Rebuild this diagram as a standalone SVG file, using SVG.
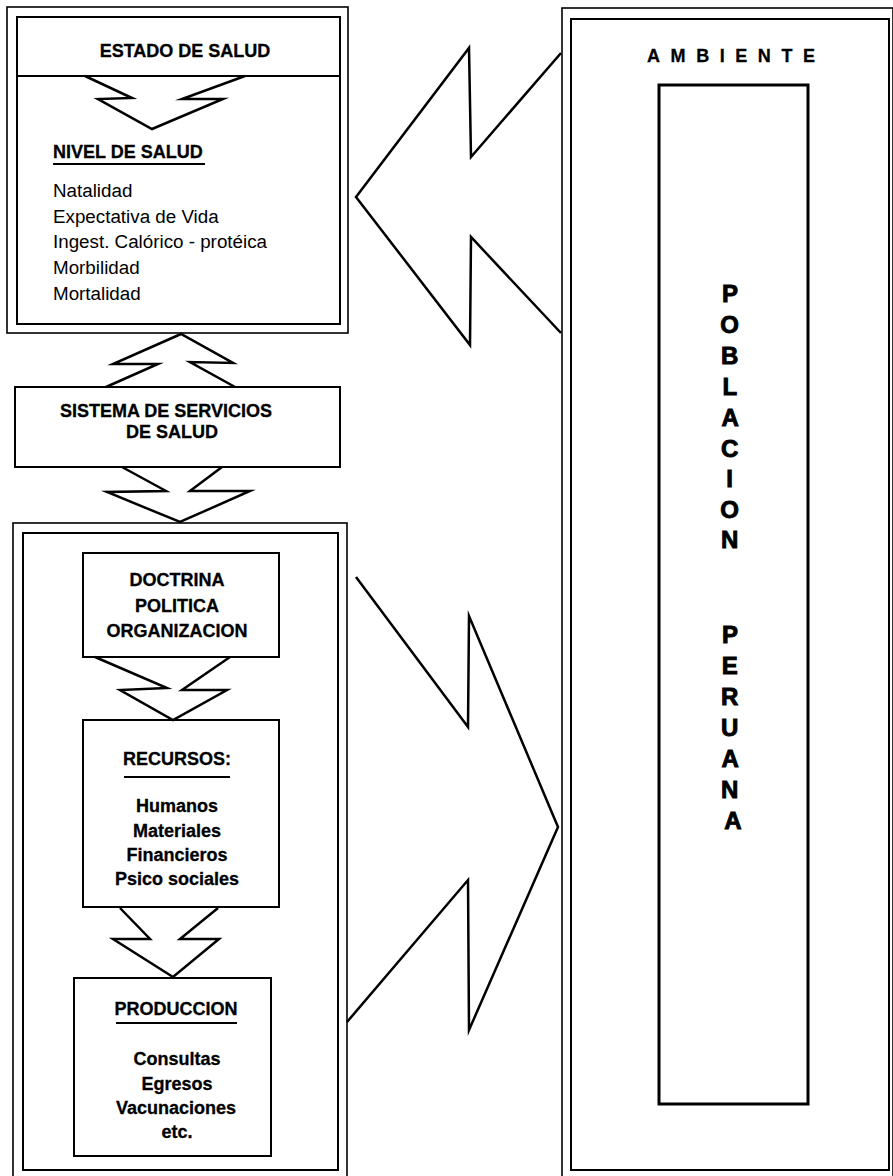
<svg xmlns="http://www.w3.org/2000/svg" width="893" height="1176" viewBox="0 0 893 1176">
  <style>
    .frame { fill: none; stroke: #000; stroke-width: 1.6; }
    .box { fill: none; stroke: #000; stroke-width: 2; }
    .thick { fill: none; stroke: #000; stroke-width: 3; }
    .arrow { fill: none; stroke: #000; stroke-width: 2.5; stroke-linejoin: miter; stroke-miterlimit: 20; }
    .ul { stroke: #000; stroke-width: 2; }
    .b { font-family: "Liberation Sans", Arial, sans-serif; font-weight: bold; font-size: 18px; fill: #000; stroke: #000; stroke-width: 0.3; }
    .r { font-family: "Liberation Sans", Arial, sans-serif; font-size: 18.8px; fill: #000; }
    .c { text-anchor: middle; }
    .big { font-family: "Liberation Sans", Arial, sans-serif; font-weight: bold; font-size: 24px; fill: #000; stroke: #000; stroke-width: 0.9; text-anchor: middle; }
  </style>
  <rect width="893" height="1176" fill="#fff"/>

  <!-- Estado de salud / nivel de salud -->
  <g id="estado-salud">
    <rect class="frame" x="7" y="7" width="341" height="326"/>
    <rect class="box" x="17" y="17" width="323" height="307"/>
    <line class="box" x1="17" y1="76" x2="340" y2="76"/>
    <text class="b c" x="185" y="57">ESTADO DE SALUD</text>
    <text class="b" x="53" y="158">NIVEL DE SALUD</text>
    <line class="ul" x1="53" y1="164" x2="205" y2="164"/>
    <text class="r" x="53" y="197">Natalidad</text>
    <text class="r" x="53" y="223">Expectativa de Vida</text>
    <text class="r" x="53" y="248">Ingest. Calórico - protéica</text>
    <text class="r" x="53" y="274">Morbilidad</text>
    <text class="r" x="53" y="300">Mortalidad</text>
  </g>

  <!-- Sistema de servicios de salud -->
  <g id="sistema-servicios">
    <rect class="box" x="15" y="387" width="325" height="80"/>
    <text class="b c" x="166" y="417" font-size="18.8">SISTEMA DE SERVICIOS</text>
    <text class="b c" x="172" y="438" font-size="18.8">DE SALUD</text>
  </g>

  <!-- Marco del sistema -->
  <g id="marco-sistema">
    <rect class="frame" x="13" y="523" width="334" height="670"/>
    <rect class="box" x="23" y="533" width="315" height="637"/>
  </g>

  <g id="doctrina">
    <rect class="box" x="83" y="553" width="196" height="104"/>
    <text class="b c" x="177" y="586">DOCTRINA</text>
    <text class="b c" x="177" y="612">POLITICA</text>
    <text class="b c" x="177" y="637">ORGANIZACION</text>
  </g>

  <g id="recursos">
    <rect class="box" x="83" y="720" width="196" height="187"/>
    <text class="b c" x="177" y="765">RECURSOS:</text>
    <line class="ul" x1="124" y1="777" x2="230" y2="777"/>
    <text class="b c" x="177" y="812">Humanos</text>
    <text class="b c" x="177" y="837">Materiales</text>
    <text class="b c" x="177" y="861">Financieros</text>
    <text class="b c" x="177" y="885">Psico sociales</text>
  </g>

  <g id="produccion">
    <rect class="box" x="74" y="978" width="197" height="178"/>
    <text class="b c" x="176" y="1015">PRODUCCION</text>
    <line class="ul" x1="116" y1="1023" x2="237" y2="1023"/>
    <text class="b c" x="177" y="1065">Consultas</text>
    <text class="b c" x="177" y="1090">Egresos</text>
    <text class="b c" x="176" y="1114">Vacunaciones</text>
    <text class="b c" x="177" y="1138">etc.</text>
  </g>

  <!-- Ambiente -->
  <g id="ambiente">
    <rect class="frame" x="562" y="8" width="331" height="1185"/>
    <rect class="box" x="571" y="19" width="318" height="1151"/>
    <text class="b" x="647" y="62" font-size="20" stroke-width="1.1" textLength="168" lengthAdjust="spacing">AMBIENTE</text>
  </g>

  <g id="poblacion">
    <rect class="thick" x="659" y="85" width="149" height="1019"/>
    <text class="big">
      <tspan x="733" y="302">P</tspan>
      <tspan x="733" y="333">O</tspan>
      <tspan x="733" y="364">B</tspan>
      <tspan x="733" y="395">L</tspan>
      <tspan x="733" y="426">A</tspan>
      <tspan x="733" y="457">C</tspan>
      <tspan x="733" y="487">I</tspan>
      <tspan x="733" y="518">O</tspan>
      <tspan x="733" y="548">N</tspan>
      <tspan x="733" y="643">P</tspan>
      <tspan x="733" y="674">E</tspan>
      <tspan x="733" y="705">R</tspan>
      <tspan x="733" y="736">U</tspan>
      <tspan x="733" y="767">A</tspan>
      <tspan x="733" y="798">N</tspan>
      <tspan x="733" y="829">A</tspan>
    </text>
  </g>

  <!-- Flechas -->
  <g id="connectors">
    <polyline class="arrow" points="85,76 132,98 98,99 152,129 223,99 182,99 245,76"/>
    <polyline class="arrow" points="106,387 158,364 113,364 181,334 233,363 190,362 235,387"/>
    <polyline class="arrow" points="122,467 166,491 107,492 180,522 250,491 190,491 222,467"/>
    <polyline class="arrow" points="95,657 167,688 120,690 173,720 227,690 182,690 230,657"/>
    <polyline class="arrow" points="120,908 150,939 113,939 173,977 219,939 180,939 218,908"/>
    <polyline class="arrow" points="561,53 471,157 469,48 356,197 470,345 471,237 561,333"/>
    <polyline class="arrow" points="356,577 468,727 469,616 558,827 469,1030 468,880 347,1022"/>
  </g>
</svg>
